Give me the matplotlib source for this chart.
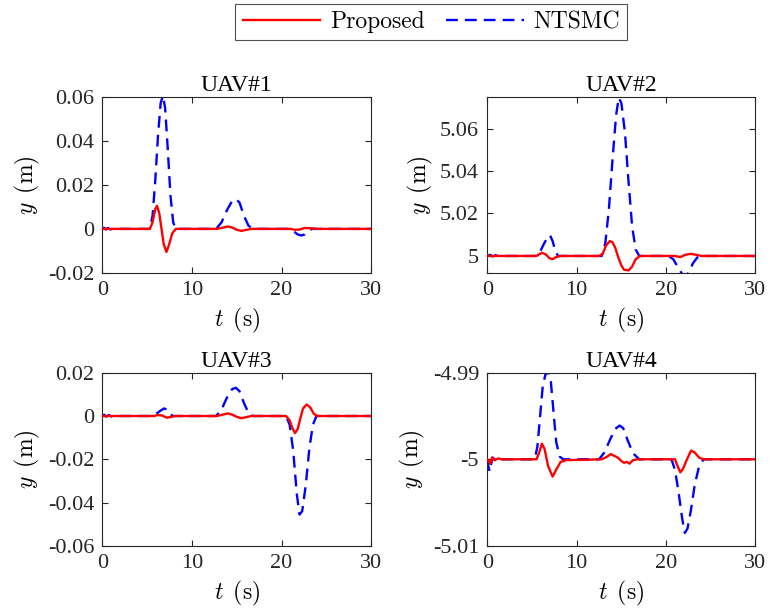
import matplotlib
matplotlib.use("Agg")
import matplotlib.pyplot as plt
from matplotlib.ticker import FuncFormatter

plt.rcParams['font.family'] = ['Liberation Serif', 'DejaVu Serif']
plt.rcParams['mathtext.fontset'] = 'cm'
plt.rcParams['axes.unicode_minus'] = False

# ---- data ------------------------------------------------------------------
# UAV#1
t1_prop = [0, 5.3, 5.6, 5.9, 6.1, 6.35, 6.6, 6.85, 7.15, 7.45, 7.8, 8.2, 12.8, 13.5, 14.0,
           14.5, 15.0, 15.5, 16.0, 16.6, 21.0, 21.5, 22.0, 22.6, 23.2, 24.0, 30]
y1_prop = [0, 0, 0.003, 0.009, 0.0105, 0.007, 0.0, -0.007, -0.0105, -0.007, -0.002, 0, 0, 0.0006, 0.0011,
           0.0006, -0.0004, -0.0009, -0.0005, 0, 0, -0.0004, -0.0003, 0.0004, 0.0003, 0, 0]
t1_nts = [0, 0.2, 0.4, 0.6, 0.9, 1.2, 5.3, 5.6, 5.9, 6.2, 6.5, 6.75, 7.0, 7.3, 7.6, 7.9, 8.2,
          12.7, 13.3, 13.9, 14.5, 14.9, 15.3, 15.8, 16.3, 16.8, 20.8, 21.3, 21.8, 22.2, 22.6, 23.0, 23.4, 30]
y1_nts = [0, 0.0005, -0.0003, 0.0004, -0.0002, 0, 0, 0.006, 0.022, 0.042, 0.057, 0.0605, 0.055, 0.036, 0.015, 0.003, 0,
          0, 0.003, 0.0085, 0.0128, 0.0135, 0.012, 0.006, 0.0015, 0, 0, -0.001, -0.0025, -0.003, -0.0025, -0.001, 0, 0]

# UAV#2
t2_prop = [0, 5.5, 5.8, 6.1, 6.5, 7.0, 7.3, 7.7, 8.2, 12.5, 12.9, 13.3, 13.7, 14.0, 14.3, 14.6, 15.0,
           15.3, 15.8, 16.2, 16.6, 17.1, 21.0, 21.6, 22.2, 22.8, 23.4, 24.0, 30]
y2_prop = [5, 5, 5.0008, 5.0015, 5.0008, 4.9988, 4.9985, 4.9995, 5, 5, 5.001, 5.005, 5.007, 5.0065, 5.004, 5.0, 4.9955,
           4.9935, 4.9932, 4.995, 4.9985, 5, 5, 4.9995, 5.0006, 5.001, 5.0005, 5, 5]
t2_nts = [0, 0.3, 0.6, 0.9, 1.2, 5.5, 5.9, 6.3, 6.7, 7.0, 7.3, 7.6, 7.9, 12.8, 13.2, 13.6, 14.0, 14.4,
          14.7, 15.0, 15.4, 15.8, 16.2, 16.6, 17.0, 20.3, 20.8, 21.3, 21.8, 22.2, 22.6, 23.0, 23.5, 24.0, 30]
y2_nts = [5, 5.0005, 4.9998, 5.0003, 5, 5, 5.002, 5.0055, 5.0085, 5.0098, 5.007, 5.0025, 5.0, 5, 5.006, 5.022, 5.045, 5.066,
          5.0745, 5.072, 5.058, 5.035, 5.014, 5.003, 5, 5, 4.9985, 4.995, 4.9915, 4.9905, 4.9925, 4.9965, 4.9993, 5, 5]

# UAV#3
t3_prop = [0, 5.8, 6.2, 6.7, 7.2, 7.7, 8.2, 12.8, 13.5, 14.0, 14.5, 15.0, 15.5, 16.0, 16.6, 20.5, 20.9,
           21.2, 21.5, 21.8, 22.1, 22.4, 22.8, 23.2, 23.6, 24.0, 30]
y3_prop = [0, 0, 0.0005, 0.0002, -0.0008, -0.0003, 0, 0, 0.0007, 0.0012, 0.0006, -0.0004, -0.001, -0.0006, 0, 0, -0.002,
           -0.0055, -0.0079, -0.006, -0.001, 0.0035, 0.0053, 0.004, 0.001, 0, 0]
t3_nts = [0, 0.2, 0.4, 0.7, 1.0, 1.3, 5.6, 6.0, 6.5, 6.9, 7.2, 7.5, 7.9, 12.7, 13.3, 13.9, 14.5, 14.9,
          15.3, 15.8, 16.3, 16.8, 20.5, 20.9, 21.3, 21.7, 22.0, 22.3, 22.7, 23.1, 23.5, 23.9, 30]
y3_nts = [0, 0.0006, -0.0003, 0.0004, -0.0002, 0, 0, 0.001, 0.0025, 0.0035, 0.003, 0.001, 0, 0, 0.003, 0.0085, 0.0125, 0.013,
          0.0115, 0.006, 0.0015, 0, 0, -0.004, -0.016, -0.036, -0.0455, -0.044, -0.032, -0.015, -0.004, 0, 0]

# UAV#4
t4_prop = [0, 0.15, 0.3, 0.5, 0.8, 1.2, 1.6, 5.5, 5.8, 6.1, 6.4, 6.8, 7.3, 7.7, 8.2, 8.8, 12.8, 13.4,
           13.8, 14.2, 14.6, 15.0, 15.3, 15.6, 15.9, 16.3, 16.8, 21.0, 21.3, 21.6, 21.9, 22.3, 22.8, 23.2,
           23.7, 24.2, 30]
y4_prop = [-5, -5.0002, -5.0005, -4.9998, -5.0001, -4.9999, -5, -5, -4.9992, -4.9982, -4.9988, -5.0008, -5.002,
           -5.0012, -5.0003, -5.0001, -5, -4.9997, -4.9994, -4.9996, -4.9998, -5.0002, -5.0004, -5.0003,
           -5.0005, -5.0001, -5, -5, -5.0008, -5.0015, -5.0011, -5.0001, -4.999, -4.9992, -4.9998, -5, -5]
t4_nts = [0, 0.1, 0.25, 0.4, 0.6, 0.9, 1.3, 1.7, 5.3, 5.6, 5.9, 6.2, 6.5, 6.8, 7.1, 7.4, 7.7, 8.1, 8.5,
          12.5, 13.1, 13.7, 14.3, 14.8, 15.2, 15.7, 16.3, 17.0, 20.6, 21.0, 21.4, 21.8, 22.1, 22.4, 22.8,
          23.2, 23.7, 24.2, 30]
y4_nts = [-5, -5.0008, -5.0014, -5.0006, -4.9998, -5.0001, -4.9998, -5, -5, -4.9985, -4.995, -4.9915, -4.9902,
          -4.9899, -4.991, -4.9945, -4.998, -4.9997, -5, -5, -4.9992, -4.9978, -4.9965, -4.9961, -4.9964,
          -4.9978, -4.9993, -5, -5, -5.0012, -5.0038, -5.0068, -5.0085, -5.008, -5.0058, -5.003, -5.0008, -5, -5]

titles = ['UAV#1', 'UAV#2', 'UAV#3', 'UAV#4']
series = [(t1_prop, y1_prop, t1_nts, y1_nts), (t2_prop, y2_prop, t2_nts, y2_nts),
          (t3_prop, y3_prop, t3_nts, y3_nts), (t4_prop, y4_prop, t4_nts, y4_nts)]
ylims = [(-0.02, 0.06), (4.992, 5.075), (-0.06, 0.02), (-5.01, -4.99)]
yticks = [[-0.02, 0, 0.02, 0.04, 0.06], [5, 5.02, 5.04, 5.06],
          [-0.06, -0.04, -0.02, 0, 0.02], [-5.01, -5, -4.99]]
xticks = [0, 10, 20, 30]

# ---- figure -----------------------------------------------------------------
fig = plt.figure(figsize=(7.7, 6.12), dpi=100)
boxes = [(0.133, 0.554, 0.349, 0.288), (0.633, 0.554, 0.348, 0.288),
         (0.133, 0.108, 0.349, 0.283), (0.633, 0.108, 0.348, 0.283)]
edge = '#262626'
handles = None
for i, (tp, yp, tn, yn) in enumerate(series):
    ax = fig.add_axes(boxes[i])
    l1, = ax.plot(tp, yp, '-', color='#ff0000', lw=1.7, label='Proposed')
    l2, = ax.plot(tn, yn, '--', color='#0000ff', lw=1.7, dashes=(5, 3), label='NTSMC')
    l1.set_zorder(3)
    handles = [l1, l2]
    ax.set_xlim(0, 30)
    ax.set_ylim(*ylims[i])
    ax.set_xticks(xticks)
    ax.set_yticks(yticks[i])
    ax.yaxis.set_major_formatter(FuncFormatter(lambda v, p: f'{round(v, 6):g}'))
    ax.tick_params(direction='in', top=True, right=True, labelsize=16, pad=6,
                   color=edge, labelcolor='#262626', length=4, width=0.8)
    for s in ax.spines.values():
        s.set_color(edge)
        s.set_linewidth(0.8)
    ax.set_title(titles[i], fontsize=17, pad=4)
    ax.set_xlabel(r'$t\ \,(\mathrm{s})$', fontsize=17, labelpad=4)
    ax.set_ylabel(r'$y\ \,(\mathrm{m})$', fontsize=17, labelpad=4)

fig.legend(handles, ['Proposed', 'NTSMC'], loc='upper center', bbox_to_anchor=(0.56, 0.997),
           ncol=2, frameon=True, fancybox=False, edgecolor=edge, handlelength=3.3,
           prop={'family': 'cmr10', 'size': 17}, borderpad=0.3, columnspacing=0.9,
           handletextpad=0.4, borderaxespad=0.1).get_frame().set_linewidth(0.8)

fig.savefig('out.png', dpi=100)
